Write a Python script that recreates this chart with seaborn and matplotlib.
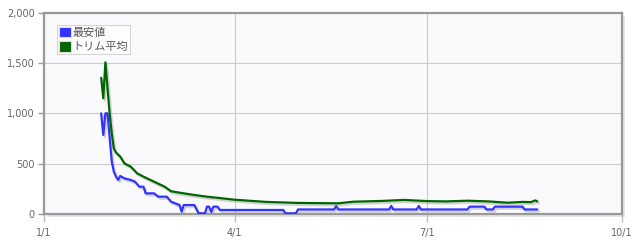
import numpy as np
import pandas as pd
import matplotlib
matplotlib.use("Agg")
import matplotlib.pyplot as plt
import matplotlib.patheffects as pe
from matplotlib.patches import Patch, Rectangle
import seaborn as sns

# ---------------- data ----------------
trim_dates = ["2023-01-28", "2023-01-29", "2023-01-30", "2023-01-31", "2023-02-01",
              "2023-02-02", "2023-02-03", "2023-02-04", "2023-02-06", "2023-02-08",
              "2023-02-11", "2023-02-14", "2023-02-17", "2023-02-22", "2023-02-27",
              "2023-03-02", "2023-03-08", "2023-03-13", "2023-03-19", "2023-03-26",
              "2023-04-01", "2023-04-16", "2023-05-01", "2023-05-20", "2023-05-27",
              "2023-06-10", "2023-06-20", "2023-07-01", "2023-07-10", "2023-07-20",
              "2023-07-30", "2023-08-08", "2023-08-15", "2023-08-19", "2023-08-21",
              "2023-08-22"]
trim_values = [1354, 1150, 1507, 1250, 1000,
               800, 650, 610, 570, 503,
               470, 404, 371, 321, 271,
               226, 205, 189, 172, 156,
               142, 120, 110, 106, 122,
               130, 140, 128, 125, 132,
               125, 112, 120, 118, 135,
               125]

min_dates = ["2023-01-28", "2023-01-29", "2023-01-30", "2023-01-31", "2023-02-01",
             "2023-02-02", "2023-02-03", "2023-02-04", "2023-02-05", "2023-02-06",
             "2023-02-08", "2023-02-11", "2023-02-13", "2023-02-15", "2023-02-17",
             "2023-02-18", "2023-02-22", "2023-02-24", "2023-02-28", "2023-03-02",
             "2023-03-06", "2023-03-07", "2023-03-08", "2023-03-13", "2023-03-15",
             "2023-03-18", "2023-03-19", "2023-03-20", "2023-03-21", "2023-03-22",
             "2023-03-24", "2023-03-25", "2023-04-24", "2023-04-25", "2023-04-30",
             "2023-05-01", "2023-05-18", "2023-05-19", "2023-05-20", "2023-06-13",
             "2023-06-14", "2023-06-15", "2023-06-26", "2023-06-27", "2023-06-28",
             "2023-07-20", "2023-07-21", "2023-07-28", "2023-07-29", "2023-08-01",
             "2023-08-02", "2023-08-15", "2023-08-16", "2023-08-22"]
min_values = [1000, 785, 1000, 1000, 760,
              520, 420, 371, 338, 378,
              354, 338, 321, 271, 271,
              205, 205, 172, 172, 122,
              89, 23, 89, 89, 7,
              7, 73, 73, 20, 73,
              73, 40, 40, 7, 7,
              45, 45, 80, 45, 45,
              80, 45, 45, 80, 45,
              45, 73, 73, 45, 45,
              73, 73, 45, 45]

series_names = ["最安値", "トリム平均"]
series_colors = ["#3333ff", "#006600"]
y_ticks = [0, 500, 1000, 1500, 2000]
x_tick_dates = ["2023-01-01", "2023-04-01", "2023-07-01", "2023-10-01"]
x_tick_labels = ["1/1", "4/1", "7/1", "10/1"]

# ---------------- figure ----------------
sns.set_style("white")
plt.rcParams["font.family"] = ["DejaVu Sans", "Noto Sans CJK JP"]

W, H = 639, 242
fig = plt.figure(figsize=(W / 100, H / 100), dpi=100)
left, right, top, bottom = 44, 622, 12.7, 214
ax = fig.add_axes([left / W, 1 - bottom / H, (right - left) / W, (bottom - top) / H])
ax.set_facecolor("#fafafd")

# frame shadow
fig.patches.append(Rectangle(((left + 3) / W, 1 - (bottom + 3) / H), (right - left) / W,
                             (bottom - top) / H, transform=fig.transFigure,
                             facecolor="#e4e4e4", edgecolor="none", zorder=-1))

shadow = [pe.SimpleLineShadow(offset=(1.2, -1.5), shadow_color="#888888", alpha=0.35),
          pe.Normal()]

df_min = pd.DataFrame({"date": pd.to_datetime(min_dates), "value": min_values})
df_trim = pd.DataFrame({"date": pd.to_datetime(trim_dates), "value": trim_values})

sns.lineplot(data=df_min, x="date", y="value", ax=ax, color=series_colors[0],
             linewidth=1.6, path_effects=shadow, zorder=3)
sns.lineplot(data=df_trim, x="date", y="value", ax=ax, color=series_colors[1],
             linewidth=1.6, path_effects=shadow, zorder=3)

ax.set_xlim(pd.Timestamp(x_tick_dates[0]), pd.Timestamp(x_tick_dates[-1]))
ax.set_ylim(0, 2000)
ax.set_xticks(pd.to_datetime(x_tick_dates))
ax.set_xticklabels(x_tick_labels)
ax.set_yticks(y_ticks)
ax.set_yticklabels([f"{v:,}" for v in y_ticks])
ax.set_xlabel("")
ax.set_ylabel("")

ax.grid(True, color="#cccccc", linewidth=0.8)
ax.set_axisbelow(True)
for s in ax.spines.values():
    s.set_color("#999999")
    s.set_linewidth(1.6)
    s.set_visible(True)

ax.tick_params(axis="y", which="both", left=True, length=4.3, width=1, color="#999999",
               labelsize=7, labelcolor="#666666", pad=2.5)
ax.tick_params(axis="x", which="both", bottom=True, length=5.8, width=1, color="#bbbbbb",
               labelsize=7, labelcolor="#666666", pad=4)

handles = [Patch(facecolor=c, edgecolor="#dddddd", linewidth=0.8) for c in series_colors]
leg = ax.legend(handles, series_names, loc="upper left",
                bbox_to_anchor=(0.0225, 0.939), borderaxespad=0,
                frameon=True, fancybox=False, handlelength=1.15, handleheight=1.1,
                handletextpad=0.1, labelspacing=0.3, borderpad=0.15,
                prop={"family": ["Noto Sans CJK JP", "DejaVu Sans"], "size": 8})
leg.get_frame().set_edgecolor("#cccccc")
leg.get_frame().set_linewidth(0.8)
leg.get_frame().set_facecolor("white")
for t in leg.get_texts():
    t.set_color("#555555")

fig.savefig("out.png", dpi=100)
